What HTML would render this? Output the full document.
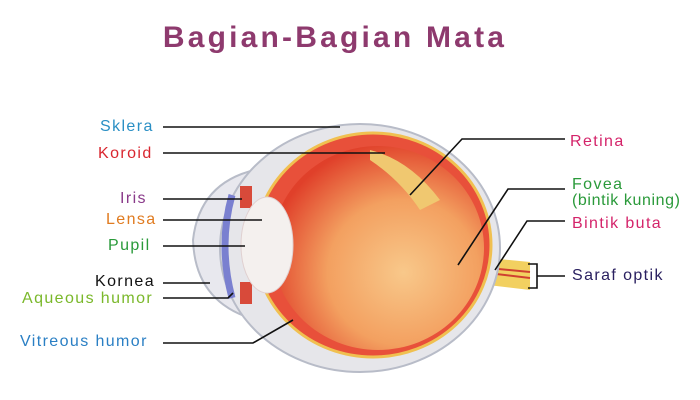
<!DOCTYPE html>
<html><head><meta charset="utf-8"><style>
body{margin:0;background:#fff;}
svg{display:block;font-family:"Liberation Sans",sans-serif;}
</style></head><body>
<svg width="700" height="400" viewBox="0 0 700 400" xmlns="http://www.w3.org/2000/svg">
<defs>
<radialGradient id="vit" cx="0.62" cy="0.62" r="0.65">
<stop offset="0" stop-color="#f8c88a"/><stop offset="0.55" stop-color="#f3a060"/><stop offset="1" stop-color="#e0402a"/>
</radialGradient>
</defs>
<text x="335" y="47" text-anchor="middle" font-size="30" font-weight="bold" fill="#8e3a6e" letter-spacing="3.2">Bagian-Bagian Mata</text>
<!-- optic nerve -->
<path d="M488,258 L530,262 L530,290 L488,285 Z" fill="#f2d060"/>
<path d="M488,268 L530,272 M488,273 L530,278" stroke="#d04030" stroke-width="2"/>
<!-- cornea bulge -->
<path d="M265,168 Q200,178 193,240 Q195,300 250,318" fill="#e8e8ee" stroke="#b8bcc8" stroke-width="2"/>
<!-- sclera -->
<ellipse cx="360" cy="248" rx="140" ry="124" fill="#e6e6ea" stroke="#b8bcc8" stroke-width="2"/>
<!-- choroid/retina -->
<ellipse cx="373" cy="245" rx="118" ry="112" fill="#e8503a" stroke="#f0c050" stroke-width="3"/>
<ellipse cx="378" cy="248" rx="106" ry="102" fill="url(#vit)"/>
<!-- iris -->
<path d="M232,195 Q218,245 232,298" stroke="#7a80d0" stroke-width="7" fill="none"/>
<!-- ciliary -->
<rect x="240" y="186" width="12" height="22" fill="#d84a3a"/>
<rect x="240" y="282" width="12" height="22" fill="#d84a3a"/>
<!-- lens -->
<ellipse cx="267" cy="245" rx="26" ry="48" fill="#f4f0ee" stroke="#e0d0d0"/>
<!-- retina flap -->
<path d="M370,150 Q410,160 440,200 L420,210 Q400,180 370,160 Z" fill="#f0c870"/>
<!-- lines -->
<g stroke="#111" stroke-width="1.6" fill="none">
<path d="M163,127H340"/><path d="M163,153H385"/>
<path d="M163,199H242"/><path d="M163,220H262"/><path d="M163,246H245"/>
<path d="M163,283H210"/><path d="M163,298H228L233,293"/>
<path d="M163,343H253L293,320"/>
<path d="M565,139H462L410,195"/><path d="M565,189H508L458,265"/>
<path d="M565,221H527L495,270"/>
<path d="M528,264H537V288H528M537,276H565"/>
</g>
<g font-size="16" letter-spacing="1.4">
<text x="100" y="131" fill="#2a8fc4">Sklera</text>
<text x="98" y="158" fill="#d9262f">Koroid</text>
<text x="120" y="203" fill="#8a3a8a">Iris</text>
<text x="106" y="224" fill="#e07b20">Lensa</text>
<text x="108" y="250" fill="#2a9a3a">Pupil</text>
<text x="95" y="286" fill="#111">Kornea</text>
<text x="22" y="303" fill="#7ab82a">Aqueous humor</text>
<text x="20" y="346" fill="#2a7fc4">Vitreous humor</text>
<text x="570" y="146" fill="#d4246a">Retina</text>
<text x="572" y="189" fill="#2a9a3a">Fovea</text>
<text x="572" y="205" fill="#2a9a3a" letter-spacing="0.6">(bintik kuning)</text>
<text x="572" y="228" fill="#d4246a">Bintik buta</text>
<text x="572" y="280" fill="#2a2060">Saraf optik</text>
</g>
</svg>
</body></html>
